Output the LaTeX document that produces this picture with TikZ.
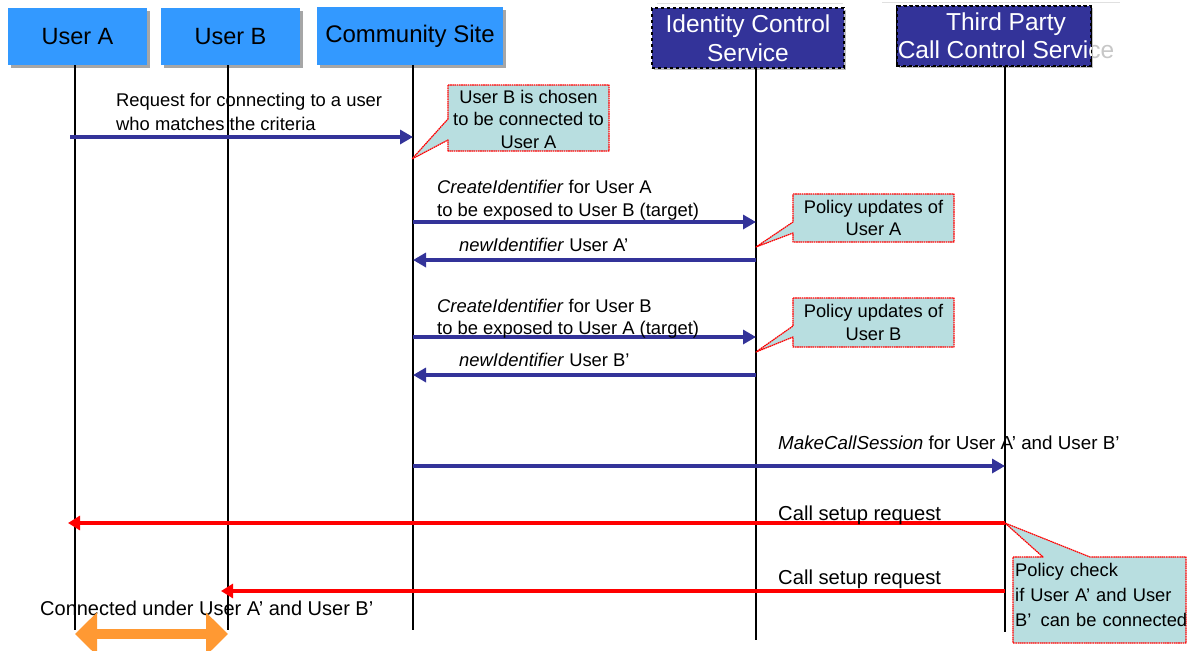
\documentclass[tikz,border=0pt]{standalone}
\usepackage{fontspec}
\setmainfont{Liberation Sans}
\usetikzlibrary{arrows.meta,shadows}
\definecolor{hdrblue}{HTML}{3399FF}
\definecolor{navy}{HTML}{333399}
\definecolor{notefill}{HTML}{B8DEE0}
\definecolor{connorange}{HTML}{FF9933}
\begin{document}
\begin{tikzpicture}[x=1pt,y=-1pt,
  hdr/.style={minimum width=139pt, minimum height=57pt, fill=hdrblue, inner sep=0pt,
    font=\fontsize{23.5}{26}\selectfont,
    drop shadow={shadow xshift=3pt,shadow yshift=-3pt,fill=black!35,opacity=1}},
  svc/.style={minimum width=192pt, minimum height=60pt, fill=navy, draw=black,
    dashed, line width=1.3pt, inner sep=0pt, text=white, align=center,
    font=\fontsize{24.5}{29}\selectfont,
    drop shadow={shadow xshift=2pt,shadow yshift=-2pt,fill=black!25,opacity=1}},
  svctext/.style={inner sep=0pt, align=center, font=\fontsize{24.5}{28}\selectfont},
  frame/.style={line width=0.8pt, black!12},
  life/.style={line width=1.2pt, black},
  msg/.style={line width=4pt, navy, -{Triangle[length=13pt,width=14pt]}},
  call/.style={line width=4.4pt, red, -{Triangle[length=12pt,width=14pt]}},
  lbl/.style={anchor=base west, inner sep=0pt, font=\fontsize{18.4}{22}\selectfont},
  noteline/.style={fill=notefill, draw=red, line width=1.2pt,
    dash pattern=on 1.6pt off 0.6pt, line join=round},
  notetext/.style={inner sep=0pt, align=center, font=\fontsize{18.3}{22.5}\selectfont}]
\useasboundingbox (0,0) rectangle (1187,651);

% participants
\node[hdr] (ua) at (77.5,36.5) {User A};
\node[hdr] (ub) at (230.5,36.5) {User B};
\node[hdr, minimum width=186pt, minimum height=58pt, font=\fontsize{24}{26}\selectfont] (cs) at (410,36) {Community Site};

\draw[frame] (657,3) -- (843,3);
\node[svc] (ics) at (748,38) {Identity Control\\Service};

\draw[frame] (882,2) -- (1120,2);
\node[svctext, text=black!22] (tpghost) at (1006,36) {Third Party\\Call Control Service};
\node[svc, minimum width=194pt] (tp) at (994,36) {};
\begin{scope}
  \clip (tp.north west) rectangle (tp.south east);
  \node[svctext, text=white] (tptext) at (1006,36) {Third Party\\Call Control Service};
\end{scope}
\draw[black, dashed, line width=1.3pt] (tp.north west) rectangle (tp.south east);

% lifeline ends
\coordinate (uaend) at (75,630);
\coordinate (ubend) at (228,630);
\coordinate (csend) at (413,630);
\coordinate (icsend) at (756,640);
\coordinate (tpend) at (1005,632);
\draw[life] (ua.south -| uaend) -- (uaend);
\draw[life] (ub.south -| ubend) -- (ubend);
\draw[life] (cs.south -| csend) -- (csend);
\draw[life] (ics.south -| icsend) -- (icsend);
\draw[life] (tp.south -| tpend) -- (tpend);

% message end points on the lifelines
\coordinate (m1s) at (70,137);   \coordinate (m1e) at (413,137);
\coordinate (m2s) at (413,222);  \coordinate (m2e) at (756,222);
\coordinate (m3s) at (756,260);  \coordinate (m3e) at (413,260);
\coordinate (m4s) at (413,337);  \coordinate (m4e) at (756,337);
\coordinate (m5s) at (756,375);  \coordinate (m5e) at (413,375);
\coordinate (m6s) at (413,466);  \coordinate (m6e) at (1005,466);
\coordinate (m7s) at (1005,523); \coordinate (m7e) at (68,523);
\coordinate (m8s) at (1005,591); \coordinate (m8e) at (221,591);

\draw[msg] (m1s) -- (m1e);
\draw[msg] (m2s) -- (m2e);
\draw[msg] (m3s) -- (m3e);
\draw[msg] (m4s) -- (m4e);
\draw[msg] (m5s) -- (m5e);
\draw[msg] (m6s) -- (m6e);
\draw[call] (m7s) -- (m7e);
\draw[call] (m8s) -- (m8e);

% message labels
\node[lbl] (l1a) at (116,106.5) {Request for connecting to a user};
\node[lbl] (l1b) at (116,130.5) {who matches the criteria};
\node[lbl] (l2a) at (437,193.5) {\textit{CreateIdentifier} for User A};
\node[lbl] (l2b) at (437,216.5) {to be exposed to User B (target)};
\node[lbl] (l3) at (459,251.5) {\textit{newIdentifier} User A’};
\node[lbl] (l4a) at (437,312.5) {\textit{CreateIdentifier} for User B};
\node[lbl] (l4b) at (437,334.5) {to be exposed to User A (target)};
\node[lbl] (l5) at (459,366.5) {\textit{newIdentifier} User B’};
\node[lbl, font=\fontsize{18.8}{22}\selectfont] (l6) at (778,449.5) {\textit{MakeCallSession} for User A’ and User B’};
\node[lbl, font=\fontsize{20.2}{22}\selectfont] (l7) at (778,520.5) {Call setup request};
\node[lbl, font=\fontsize{20.2}{22}\selectfont] (l8) at (778,584.5) {Call setup request};
\node[lbl, font=\fontsize{20}{22}\selectfont] (lconn) at (40,615) {Connected under User A’ and User B’};

% notes: boxes with a pointer to the lifeline
\draw[noteline] (448,85) -- (609,85) -- (609,151) -- (448,151) -- (448,140)
  -- (412,159) -- (448,119) -- cycle;
\node[notetext] (n1) at (528.5,119) {User B is chosen\\to be connected to\\User A};

\draw[noteline] (793,194) -- (954,194) -- (954,242) -- (793,242) -- (793,233)
  -- (756,247) -- (793,222) -- cycle;
\node[notetext] (n2) at (873.5,218) {Policy updates of\\User A};

\draw[noteline] (793,298) -- (954,298) -- (954,347) -- (793,347) -- (793,337)
  -- (756,352) -- (793,326) -- cycle;
\node[notetext] (n3) at (873.5,322.5) {Policy updates of\\User B};

\draw[noteline] (1013,557) -- (1043,557) -- (m7s) -- (1090,557) -- (1186,557)
  -- (1186,643) -- (1013,643) -- cycle;
\node[notetext, anchor=north west, align=left, text width=172pt,
  font=\fontsize{18.3}{25}\selectfont] (n4) at (1015,563.5)
  {Policy check\\if User A’ and User\\B’\, can be connected};

% connection between the two users
\coordinate (cl) at (75,634);
\coordinate (cr) at (228,634);
\draw[connorange, line width=10pt,
  {Triangle[length=22pt,width=42pt]}-{Triangle[length=22pt,width=42pt]}] (cl) -- (cr);
\end{tikzpicture}
\end{document}
